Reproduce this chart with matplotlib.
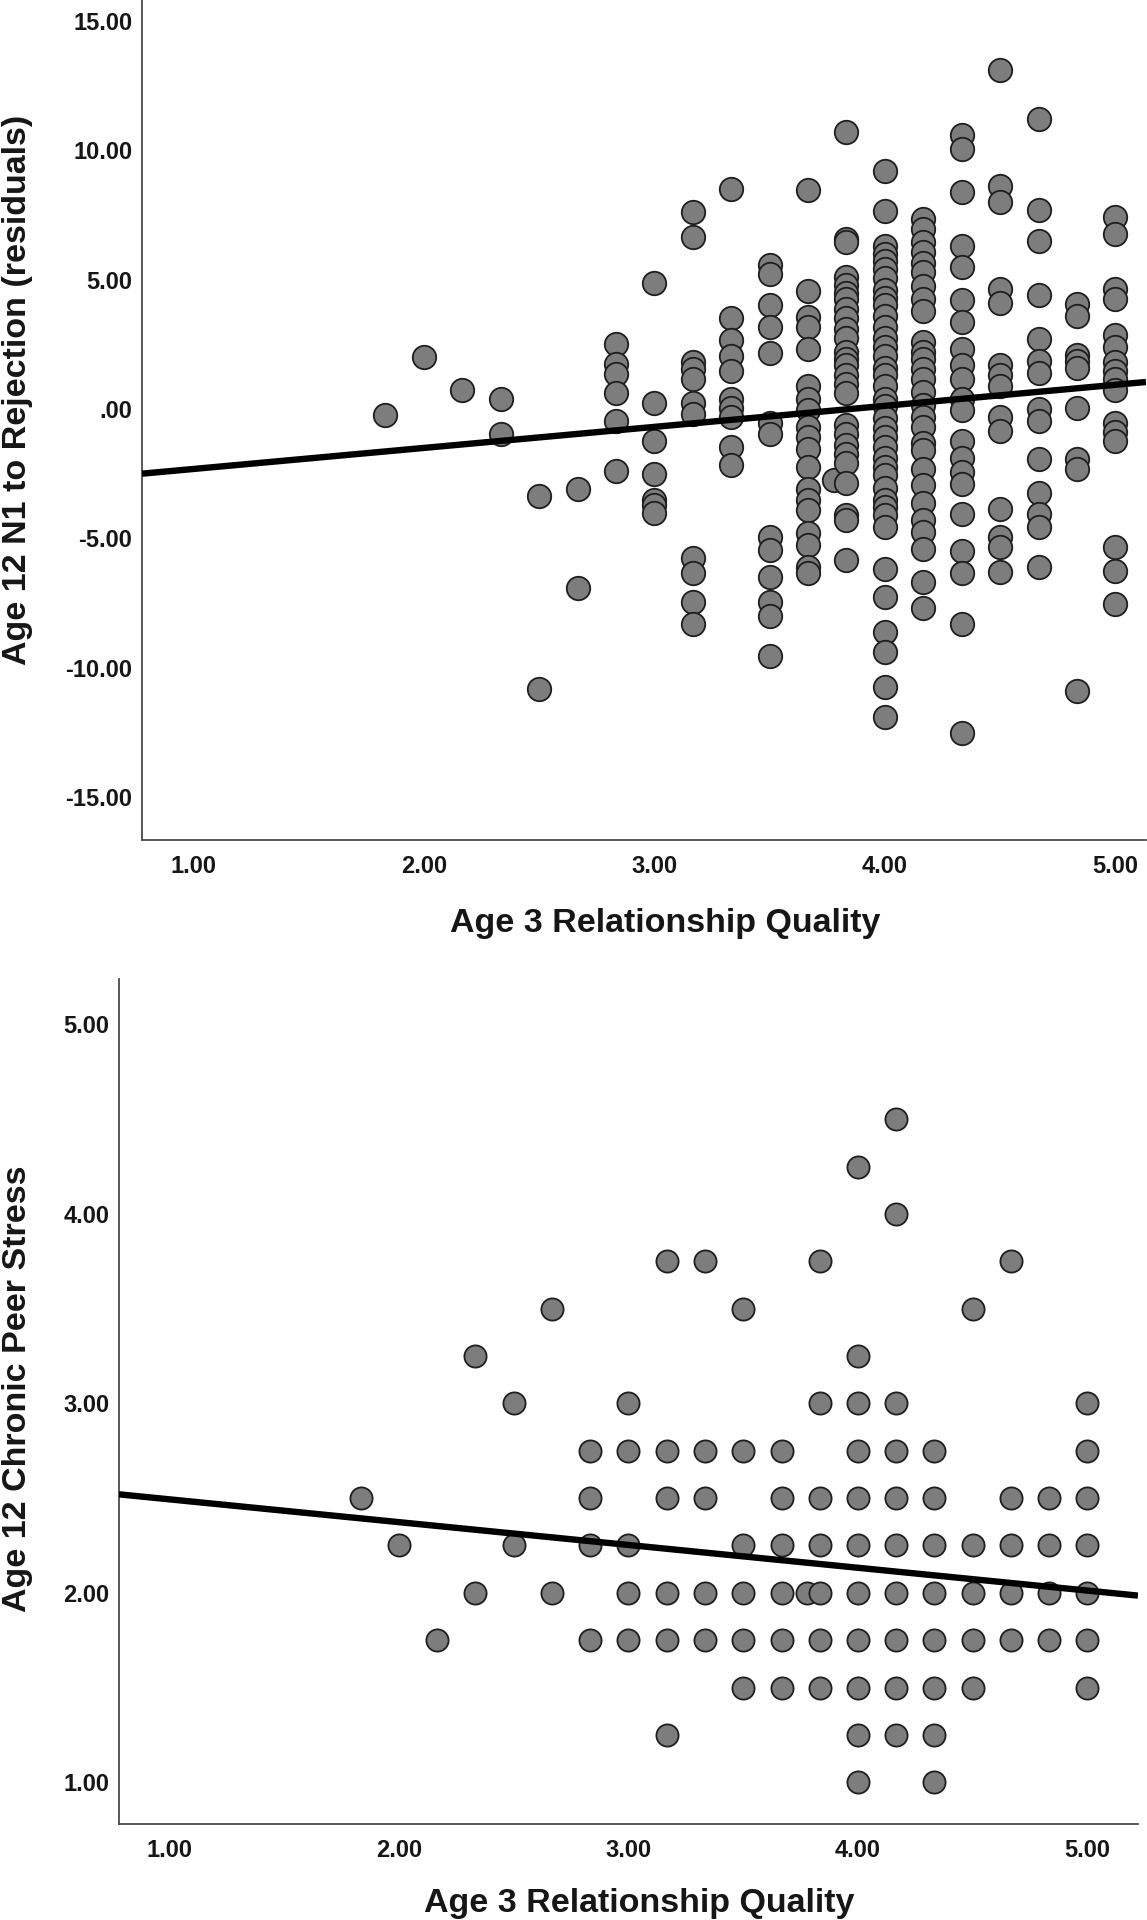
import matplotlib
matplotlib.use("Agg")
import matplotlib.pyplot as plt
import numpy as np

plt.rcParams['font.family'] = ['Liberation Sans', 'DejaVu Sans']

# ---------------- Data: top panel (residuals) ----------------
top_x_levels = [1.833, 2.0, 2.167, 2.333, 2.5, 2.667, 2.833, 3.0, 3.167, 3.333,
                3.5, 3.667, 3.78, 3.833, 4.0, 4.167, 4.333, 4.5, 4.667, 4.833, 5.0]
top_y_by_level = [
    [-0.25],
    [2.0],
    [0.75],
    [0.4, -0.95],
    [-3.35, -10.8],
    [-3.1, -6.9],
    [2.5, 1.75, 1.35, 0.6, -0.45, -2.4],
    [4.85, 0.25, -1.25, -2.5, -3.5, -3.7, -4.0],
    [7.6, 6.65, 1.8, 1.55, 1.15, 0.25, -0.2, -5.75, -6.35, -7.45, -8.3],
    [8.5, 3.5, 2.65, 2.05, 1.45, 0.4, 0.05, -0.3, -1.45, -2.15],
    [5.55, 5.2, 4.0, 3.15, 2.15, -0.55, -0.95, -4.95, -5.45, -6.5, -7.45, -8.0, -9.55],
    [8.45, 4.55, 3.55, 3.15, 2.3, 0.9, 0.4, -0.05, -0.7, -1.1, -1.55, -2.25,
     -3.1, -3.5, -3.9, -4.8, -5.25, -6.1, -6.35],
    [-2.75],
    [10.7, 6.55, 6.45, 5.1, 4.8, 4.5, 4.25, 3.85, 3.5, 3.1, 2.75, 2.2, 1.95, 1.7,
     1.3, 0.95, 0.6, -0.6, -0.95, -1.4, -1.75, -2.1, -2.85, -4.1, -4.3, -5.85],
    [9.2, 7.65, 6.3, 6.0, 5.7, 5.4, 5.05, 4.6, 4.3, 4.0, 3.6, 3.15, 2.75, 2.4, 2.05,
     1.6, 1.3, 0.9, 0.4, 0.1, -0.35, -0.75, -1.1, -1.45, -1.9, -2.25, -2.55, -3.05,
     -3.5, -3.8, -4.1, -4.55, -6.2, -7.25, -8.6, -9.4, -10.75, -11.9],
    [7.35, 6.95, 6.45, 6.05, 5.65, 5.3, 4.75, 4.25, 3.8, 2.6, 2.2, 1.95, 1.55, 1.15,
     0.65, 0.15, -0.3, -0.7, -1.3, -1.6, -2.3, -2.95, -3.65, -4.3, -4.75, -5.4,
     -6.7, -7.7],
    [10.6, 10.05, 8.4, 6.3, 5.5, 4.2, 3.35, 2.3, 1.7, 1.15, 0.4, -0.05, -1.25, -1.9,
     -2.45, -2.9, -4.05, -5.5, -6.35, -8.3, -12.5],
    [13.1, 8.6, 8.0, 4.65, 4.1, 1.7, 1.3, 0.9, -0.3, -0.85, -3.85, -4.95, -5.35, -6.3],
    [11.2, 7.7, 6.5, 4.4, 2.7, 1.85, 1.4, 0.0, -0.45, -1.95, -3.25, -4.05, -4.55, -6.1],
    [4.05, 3.6, 2.1, 1.85, 1.6, 0.05, -1.95, -2.3, -10.9],
    [7.4, 6.75, 4.65, 4.25, 2.85, 2.4, 1.8, 1.45, 1.15, 0.75, -0.55, -0.9, -1.25,
     -5.35, -6.25, -7.55],
]
top_fit_intercept = -3.13
top_fit_slope = 0.813
top_xticks = [1.0, 2.0, 3.0, 4.0, 5.0]
top_xticklabels = ['1.00', '2.00', '3.00', '4.00', '5.00']
top_yticks = [-15, -10, -5, 0, 5, 10, 15]
top_yticklabels = ['-15.00', '-10.00', '-5.00', '.00', '5.00', '10.00', '15.00']

# ---------------- Data: bottom panel (chronic peer stress) ----------------
bot_x_levels = [1.833, 2.0, 2.167, 2.333, 2.5, 2.667, 2.833, 3.0, 3.167, 3.333,
                3.5, 3.667, 3.78, 3.833, 4.0, 4.167, 4.333, 4.5, 4.667, 4.833, 5.0]
bot_y_by_level = [
    [2.5],
    [2.25],
    [1.75],
    [3.25, 2.0],
    [3.0, 2.25],
    [3.5, 2.0],
    [2.75, 2.5, 2.25, 1.75],
    [3.0, 2.75, 2.25, 2.0, 1.75],
    [3.75, 2.75, 2.5, 2.0, 1.75, 1.25],
    [3.75, 2.75, 2.5, 2.0, 1.75],
    [3.5, 2.75, 2.25, 2.0, 1.75, 1.5],
    [2.75, 2.5, 2.25, 2.0, 1.75, 1.5],
    [2.0],
    [3.75, 3.0, 2.5, 2.25, 2.0, 1.75, 1.5],
    [4.25, 3.25, 3.0, 2.75, 2.5, 2.25, 2.0, 1.75, 1.5, 1.25, 1.0],
    [4.5, 4.0, 3.0, 2.75, 2.5, 2.25, 2.0, 1.75, 1.5, 1.25],
    [2.75, 2.5, 2.25, 2.0, 1.75, 1.5, 1.25, 1.0],
    [3.5, 2.25, 2.0, 1.75, 1.5],
    [3.75, 2.5, 2.25, 2.0, 1.75],
    [2.5, 2.25, 2.0, 1.75],
    [3.0, 2.75, 2.5, 2.25, 2.0, 1.75, 1.5],
]
bot_fit_intercept = 2.614
bot_fit_slope = -0.1204
bot_xticks = [1.0, 2.0, 3.0, 4.0, 5.0]
bot_xticklabels = ['1.00', '2.00', '3.00', '4.00', '5.00']
bot_yticks = [1, 2, 3, 4, 5]
bot_yticklabels = ['1.00', '2.00', '3.00', '4.00', '5.00']

x_label = 'Age 3 Relationship Quality'
top_ylabel = 'Age 12 N1 to Rejection (residuals)'
bot_ylabel = 'Age 12 Chronic Peer Stress'


def flatten(levels, vals):
    xs, ys = [], []
    for lv, col in zip(levels, vals):
        xs.extend([lv] * len(col))
        ys.extend(col)
    return np.array(xs), np.array(ys)


FACE = '#7d7d7d'
EDGE = '#1e1e1e'
SPINE = '#4a4a4a'
TXT = '#161616'
LABEL_FS = 24.5
TICK_FS = 17


def style_axes(ax, xlim, ylim, xt, xtl, yt, ytl):
    ax.set_xlim(*xlim)
    ax.set_ylim(*ylim)
    ax.set_xticks(xt)
    ax.set_xticklabels(xtl)
    ax.set_yticks(yt)
    ax.set_yticklabels(ytl)
    for s in ['top', 'right']:
        ax.spines[s].set_visible(False)
    for s in ['left', 'bottom']:
        ax.spines[s].set_color(SPINE)
        ax.spines[s].set_linewidth(1.3)
    ax.tick_params(axis='both', length=0, labelsize=TICK_FS, colors=TXT)
    ax.tick_params(axis='x', pad=11)
    ax.tick_params(axis='y', pad=7)
    for lab in ax.get_xticklabels() + ax.get_yticklabels():
        lab.set_fontweight('bold')


fig = plt.figure(figsize=(11.47, 19.2), dpi=100)

# ---- top panel ----
ax1 = fig.add_axes([0.1238, 0.5625, 0.8753, 0.4375])
tx, ty = flatten(top_x_levels, top_y_by_level)
ax1.scatter(tx, ty, s=285, facecolor=FACE, edgecolor=EDGE, linewidths=1.3, zorder=2)
xl1 = (0.777, 5.133)
xx = np.array(xl1)
ax1.plot(xx, top_fit_intercept + top_fit_slope * xx, color='black', lw=4.6,
         solid_capstyle='butt', zorder=3)
style_axes(ax1, xl1, (-16.65, 15.8), top_xticks, top_xticklabels,
           top_yticks, top_yticklabels)
ax1.set_xlabel(x_label, fontsize=LABEL_FS, fontweight='bold', color=TXT, va='center')
ax1.xaxis.set_label_coords(0.521, -0.099)
ax1.set_ylabel(top_ylabel, fontsize=LABEL_FS, fontweight='bold', color=TXT, va='center')
ax1.yaxis.set_label_coords(-0.124, 0.536)

# ---- bottom panel ----
ax2 = fig.add_axes([0.1037, 0.05, 0.8884, 0.4401])
bx, by = flatten(bot_x_levels, bot_y_by_level)
ax2.scatter(bx, by, s=255, facecolor=FACE, edgecolor=EDGE, linewidths=1.3, zorder=2)
xl2 = (0.78, 5.22)
xx2 = np.array(xl2)
ax2.plot(xx2, bot_fit_intercept + bot_fit_slope * xx2, color='black', lw=4.6,
         solid_capstyle='butt', zorder=3)
style_axes(ax2, xl2, (0.78, 5.24), bot_xticks, bot_xticklabels,
           bot_yticks, bot_yticklabels)
ax2.set_xlabel(x_label, fontsize=LABEL_FS, fontweight='bold', color=TXT, va='center')
ax2.xaxis.set_label_coords(0.511, -0.094)
ax2.set_ylabel(bot_ylabel, fontsize=LABEL_FS, fontweight='bold', color=TXT, va='center')
ax2.yaxis.set_label_coords(-0.1, 0.515)

fig.savefig('out.png', dpi=100, facecolor='white')
